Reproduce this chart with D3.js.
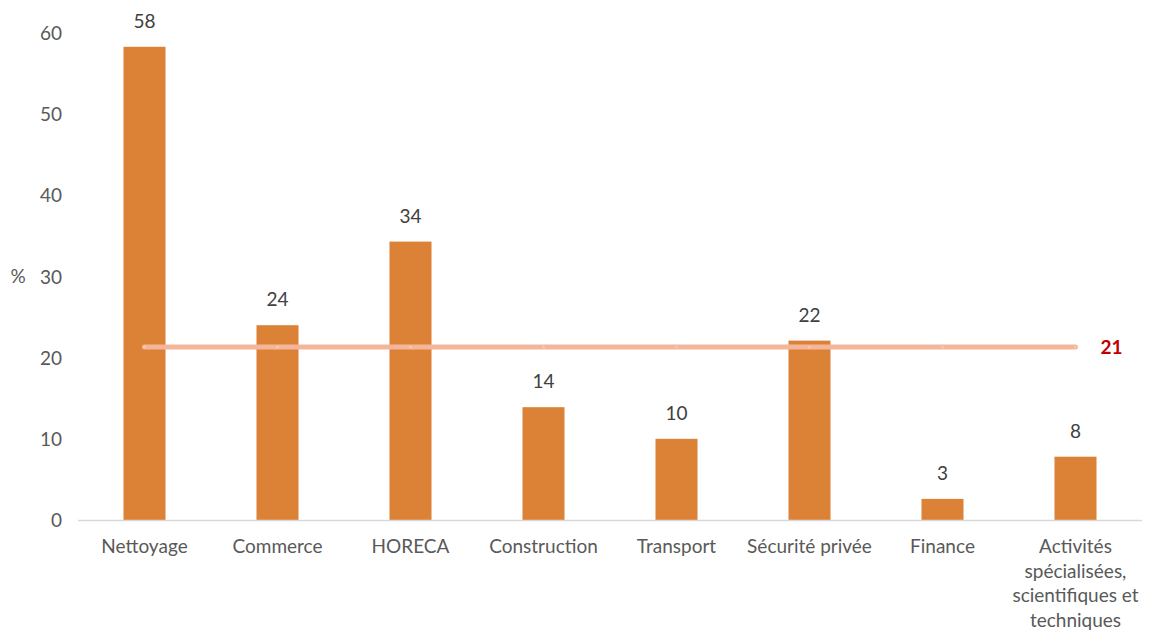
<!DOCTYPE html>
<html>
<head>
<meta charset="utf-8">
<script src="https://cdn.jsdelivr.net/npm/d3@7"></script>
<style>
  html, body { margin: 0; padding: 0; background: #fff; }
  svg { display: block; font-family: Lato, "Open Sans", sans-serif; }
</style>
</head>
<body>
<svg id="chart" width="1149" height="630"></svg>
<script>
// Share by sector (%), with the all-sector average shown as a reference line
const categories = [
  ["Nettoyage"],
  ["Commerce"],
  ["HORECA"],
  ["Construction"],
  ["Transport"],
  ["Sécurité privée"],
  ["Finance"],
  ["Activités", "spécialisées,", "scientifiques et", "techniques"]
];
const shares = [58.3, 24.0, 34.3, 13.9, 10.0, 22.1, 2.6, 7.8];
const average = 21.3;
const yTicks = [0, 10, 20, 30, 40, 50, 60];

const svg = d3.select("#chart");
const margin = { left: 78, right: 7, top: 33, bottom: 110 };
const W = 1149, H = 630;
const fontSize = "19px";

const x = d3.scaleBand()
  .domain(d3.range(categories.length))
  .range([margin.left, W - margin.right])
  .paddingInner(0.684)
  .paddingOuter(0.342);

const y = d3.scaleLinear().domain([0, 60]).range([520, 33]);

const fmt = d3.format(".0f");

// Y axis labels (no axis line, no gridlines)
const yAxis = d3.axisLeft(y).tickValues(yTicks).tickSize(0).tickPadding(0);
const gy = svg.append("g").attr("transform", "translate(62,0)").call(yAxis);
gy.select(".domain").remove();
gy.selectAll("text")
  .attr("fill", "#595959")
  .style("font-size", fontSize)
  .style("font-family", "Lato, sans-serif")
  .attr("dy", "0.35em");

svg.append("text")
  .attr("x", 18).attr("y", y(30))
  .attr("dy", "0.35em")
  .attr("text-anchor", "middle")
  .attr("fill", "#595959")
  .style("font-size", fontSize)
  .text("%");

// Bars
svg.append("g").selectAll("rect")
  .data(shares)
  .join("rect")
  .attr("x", (d, i) => x(i))
  .attr("y", d => y(d))
  .attr("width", x.bandwidth())
  .attr("height", d => y(0) - y(d))
  .attr("fill", "#dc8237");

// Baseline
svg.append("line")
  .attr("x1", margin.left).attr("x2", W - margin.right)
  .attr("y1", y(0) + 0.5).attr("y2", y(0) + 0.5)
  .attr("stroke", "#d9d9d9").attr("stroke-width", 1.5);

// Value labels
svg.append("g").selectAll("text")
  .data(shares)
  .join("text")
  .attr("x", (d, i) => x(i) + x.bandwidth() / 2)
  .attr("y", d => y(d) - 19)
  .attr("text-anchor", "middle")
  .attr("fill", "#404040")
  .style("font-size", fontSize)
  .text(d => fmt(d));

// Category labels
const cat = svg.append("g").selectAll("text")
  .data(categories)
  .join("text")
  .attr("x", (d, i) => x(i) + x.bandwidth() / 2)
  .attr("y", 553)
  .attr("text-anchor", "middle")
  .attr("fill", "#595959")
  .style("font-size", fontSize);
cat.selectAll("tspan")
  .data(d => d)
  .join("tspan")
  .attr("x", function () { return d3.select(this.parentNode).attr("x"); })
  .attr("dy", (d, j) => j === 0 ? 0 : 24.5)
  .text(d => d);

// Average line across all categories
const avgPts = categories.map((c, i) => [x(i) + x.bandwidth() / 2, y(average)]);
svg.append("path")
  .attr("d", d3.line()(avgPts))
  .attr("fill", "none")
  .attr("stroke", "#f4b59b")
  .attr("stroke-width", 5)
  .attr("stroke-linecap", "round");
svg.append("g").selectAll("circle")
  .data(avgPts)
  .join("circle")
  .attr("cx", d => d[0]).attr("cy", d => d[1])
  .attr("r", 1.5)
  .attr("fill", "#f7c6b2");

svg.append("text")
  .attr("x", avgPts[avgPts.length - 1][0] + 36)
  .attr("y", y(average))
  .attr("dy", "0.35em")
  .attr("text-anchor", "middle")
  .attr("fill", "#c00000")
  .style("font-size", fontSize)
  .style("font-weight", "bold")
  .text(fmt(average));
</script>
</body>
</html>
